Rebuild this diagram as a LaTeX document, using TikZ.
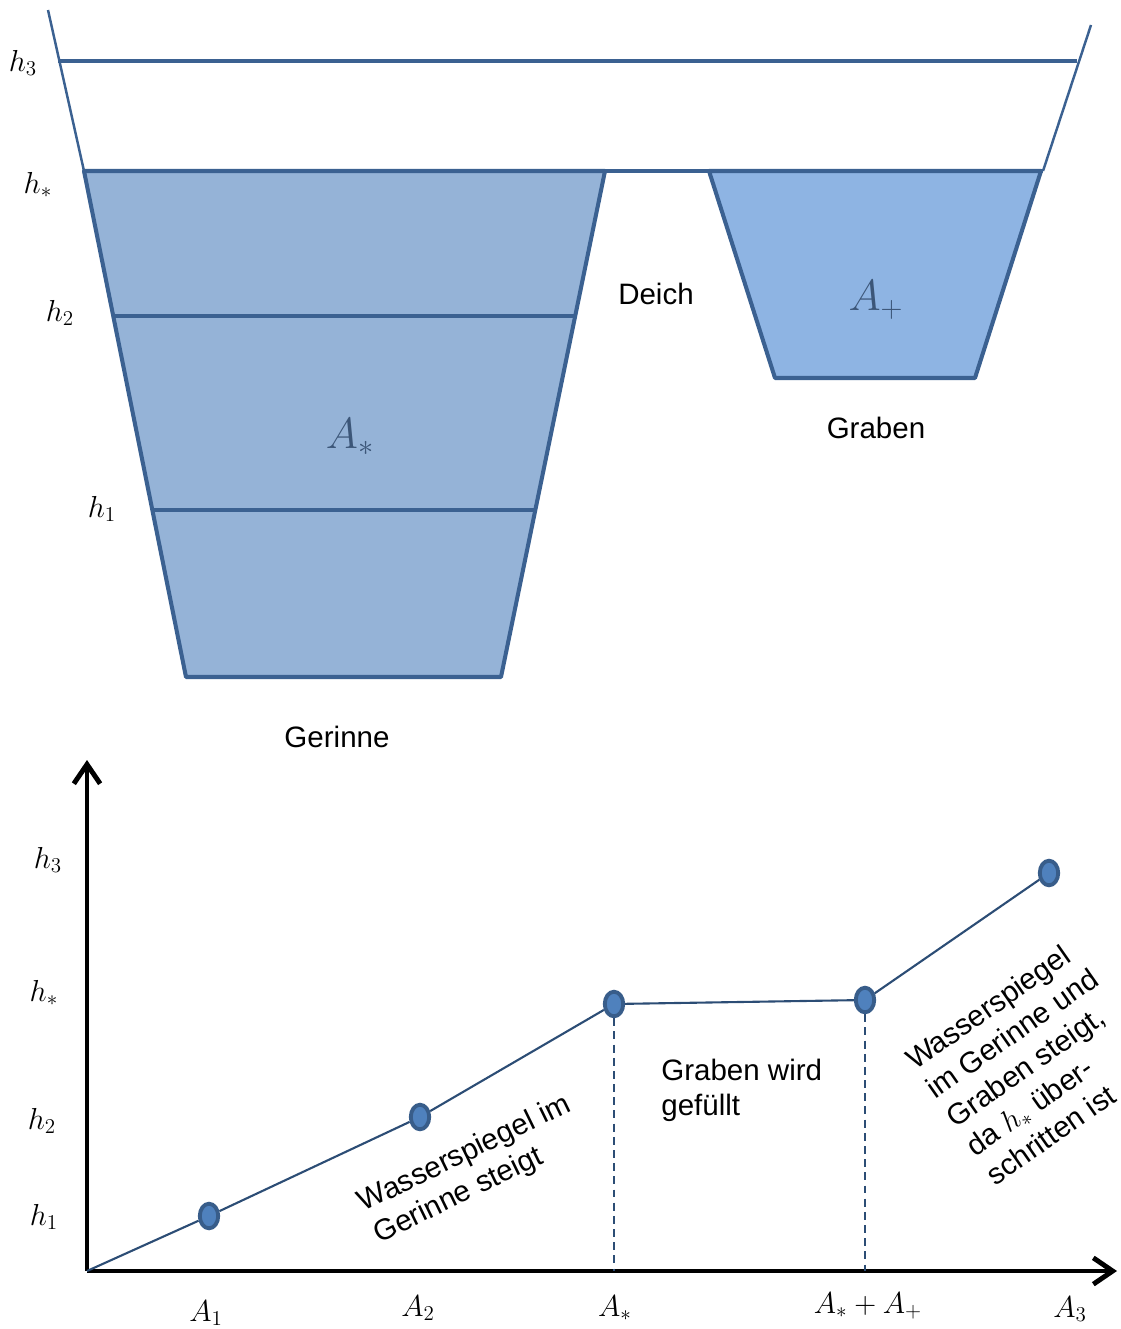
\documentclass[tikz,border=0pt]{standalone}
\usepackage{fontspec}
\setmainfont{Liberation Sans}
\usepackage{tikz}
\usetikzlibrary{shapes.geometric, arrows.meta}
\usepackage{xcolor}

\definecolor{rand}{HTML}{3B6191}
\definecolor{gerinnefill}{HTML}{95B3D7}
\definecolor{grabenfill}{HTML}{8EB4E3}
\definecolor{punktfill}{HTML}{4F81BD}
\definecolor{punktrand}{HTML}{385D8A}
\definecolor{kurvenfarbe}{HTML}{2C4D75}
\definecolor{flaechenfarbe}{HTML}{3C5678}

\tikzset{
  ufer/.style={draw=rand, line width=2.3pt, line join=round},
  boeschung/.style={draw=rand, line width=1.4pt},
  achse/.style={line width=2.8pt, -{Straight Barb[length=11pt, width=15pt]}},
  kurve/.style={draw=kurvenfarbe, line width=1.2pt},
  lot/.style={draw=kurvenfarbe, line width=1.2pt, dash pattern=on 4.5pt off 3pt},
  punkt/.style={ellipse, draw=punktrand, fill=punktfill, line width=2.2pt,
    minimum width=10.5pt, minimum height=14pt, inner sep=0pt},
  mlabel/.style={font=\fontsize{18}{21}\selectfont, inner sep=0pt},
  flabel/.style={font=\fontsize{25}{28}\selectfont, text=flaechenfarbe, inner sep=0pt},
  txt/.style={font=\fontsize{16.8}{20}\selectfont, inner sep=0pt}
}

\begin{document}
\begin{tikzpicture}[x=0.02cm, y=-0.02cm]
    \useasboundingbox (0,0) rectangle (1121,1329);

    % Querschnitt
    \draw[boeschung] (48,10) -- (84,171);
    \draw[boeschung] (1091,25) -- (1043,171);
    \draw[ufer] (58,61) -- (1077,61);
    \filldraw[ufer, fill=gerinnefill] (84,171) -- (605,171) -- (501,677) -- (186,677) -- cycle;
    \filldraw[ufer, fill=grabenfill] (709,171) -- (1041,171) -- (975,378) -- (775,378) -- cycle;
    \draw[ufer] (84,171) -- (1043,171);
    \draw[ufer] (114,316) -- (575,316);
    \draw[ufer] (153,510) -- (535,510);

    \node[mlabel] (qh3) at (23,63) {$h_3$};
    \node[mlabel] (qhs) at (38,185) {$h_*$};
    \node[mlabel] (qh2) at (60,313) {$h_2$};
    \node[mlabel] (qh1) at (102,509) {$h_1$};
    \node[flabel] (astern) at (350,437) {$A_*$};
    \node[flabel] (aplus) at (876,300) {$A_+$};
    \node[txt] (deich) at (656,294) {Deich};
    \node[txt] (graben) at (876,428) {Graben};
    \node[txt] (gerinne) at (337,737) {Gerinne};

    % Diagramm
    \coordinate (O) at (87,1271);
    \coordinate (yende) at (87,760);
    \coordinate (xende) at (1117,1271);
    \draw[achse] (O) -- (yende);
    \draw[achse] (O) -- (xende);

    \node[punkt] (p1) at (209,1216) {};
    \node[punkt] (p2) at (420,1117) {};
    \node[punkt] (p3) at (614,1004) {};
    \node[punkt] (p4) at (865,1000) {};
    \node[punkt] (p5) at (1049,873) {};
    \draw[kurve] (O) -- (p1) -- (p2) -- (p3) -- (p4) -- (p5);
    \draw[lot] (p3) -- (p3 |- O);
    \draw[lot] (p4) -- (p4 |- O);

    \node[mlabel] (dh3) at (48,860) {$h_3$};
    \node[mlabel] (dhs) at (44,993) {$h_*$};
    \node[mlabel] (dh2) at (42,1121) {$h_2$};
    \node[mlabel] (dh1) at (44,1217) {$h_1$};
    \node[mlabel] (a1) at (206,1313) {$A_1$};
    \node[mlabel] (a2) at (418,1308) {$A_2$};
    \node[mlabel] (as) at (615,1308) {$A_*$};
    \node[mlabel] (asp) at (868,1306) {$A_* + A_+$};
    \node[mlabel] (a3) at (1070,1309) {$A_3$};

    \node[txt, align=left, anchor=west, rotate=26] (steigt) at (368,1221) {Wasserspiegel im\\Gerinne steigt};
    \node[txt, align=left, anchor=west] (fuellt) at (661,1090) {Graben wird\\gefüllt};
    \node[txt, align=left, anchor=west, rotate=35] (beide) at (949,1120)
        {Wasserspiegel\\im Gerinne und\\Graben steigt,\\da $h_*$ über-\\schritten ist};
\end{tikzpicture}
\end{document}
